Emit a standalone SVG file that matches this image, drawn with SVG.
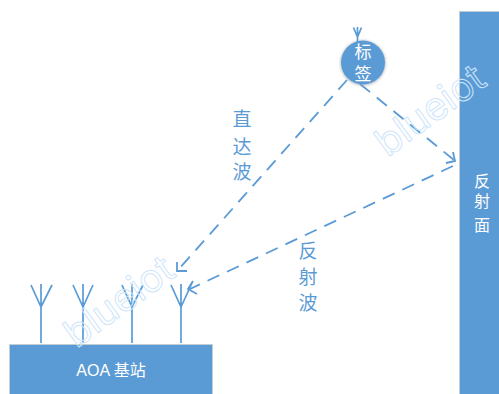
<svg xmlns="http://www.w3.org/2000/svg" width="499" height="394" viewBox="0 0 499 394">
<defs>
<style>
.box{fill:#5b9bd5;stroke:#c4ccd4;stroke-width:1}
.ant{fill:none;stroke:#5b9bd5;stroke-width:1.7}
.dash{fill:none;stroke:#5b9bd5;stroke-width:1.8;stroke-dasharray:13 8.500}
.head{fill:none;stroke:#5b9bd5;stroke-width:1.8}
.lab{font-family:"Liberation Sans","Noto Sans CJK SC",sans-serif;text-anchor:middle}
.w{fill:#fff}
.b{fill:#5b9bd5;font-size:19px}
.wm{font-family:"Inter","Liberation Sans",sans-serif;font-size:39px;fill:none;stroke:#cfe6fa;stroke-width:1;text-anchor:middle}
</style>
<filter id="sh" x="-20%" y="-20%" width="140%" height="140%"><feGaussianBlur stdDeviation="1"/></filter>
</defs>
<g id="connectors">
<path class="dash" d="M347 80L178 270"/>
<path class="head" d="M177 262L177 271L187 271"/>
<path class="dash" d="M360 84L454 160"/>
<path class="head" d="M453 152L455 161L446 163"/>
<path class="dash" d="M453 166L190 289"/>
<path class="head" d="M193 281L188 289L197 294"/>
</g>
<g id="tag">
<circle cx="363" cy="63" r="23" fill="#9aa3ab" opacity=".55" filter="url(#sh)"/>
<circle cx="363" cy="62.500" r="22" fill="#5b9bd5"/>
<path class="ant" d="M353.500 27.500L357.500 37L361.500 27.500M357.500 27V45"/>
<text class="lab w" x="363" y="58" font-size="17">标</text>
<text class="lab w" x="363" y="80" font-size="17">签</text>
</g>
<g id="reflector">
<rect class="box" x="459.500" y="11.500" width="45" height="390"/>
<text class="lab w" x="482" y="187" font-size="16">反</text>
<text class="lab w" x="482" y="207" font-size="16">射</text>
<text class="lab w" x="482" y="231" font-size="16">面</text>
</g>
<g id="base-station">
<rect class="box" x="9.500" y="344.500" width="203" height="60"/>
<text class="lab w" x="111" y="376" font-size="16">AOA 基站</text>
</g>
<g id="antenna-1"><path class="ant" d="M31 285L41 307L52 285M41 284V343"/></g>
<g id="antenna-2"><path class="ant" d="M73 285L83 307L93 285M83 284V343"/></g>
<g id="antenna-3"><path class="ant" d="M122 285L132 307L143 285M132 284V343"/></g>
<g id="antenna-4"><path class="ant" d="M171 285L181 307L192 283M181 284V343"/></g>
<g id="label-direct">
<text class="lab b" x="242" y="126">直</text>
<text class="lab b" x="242" y="154">达</text>
<text class="lab b" x="242" y="179">波</text>
</g>
<g id="label-reflect">
<text class="lab b" x="308" y="258">反</text>
<text class="lab b" x="308" y="284">射</text>
<text class="lab b" x="308" y="310">波</text>
</g>
<g id="watermarks">
<text class="wm" transform="translate(438 121) rotate(-36)">blueiot</text>
<text class="wm" transform="translate(127 312) rotate(-36)">blueiot</text>
</g>
</svg>
